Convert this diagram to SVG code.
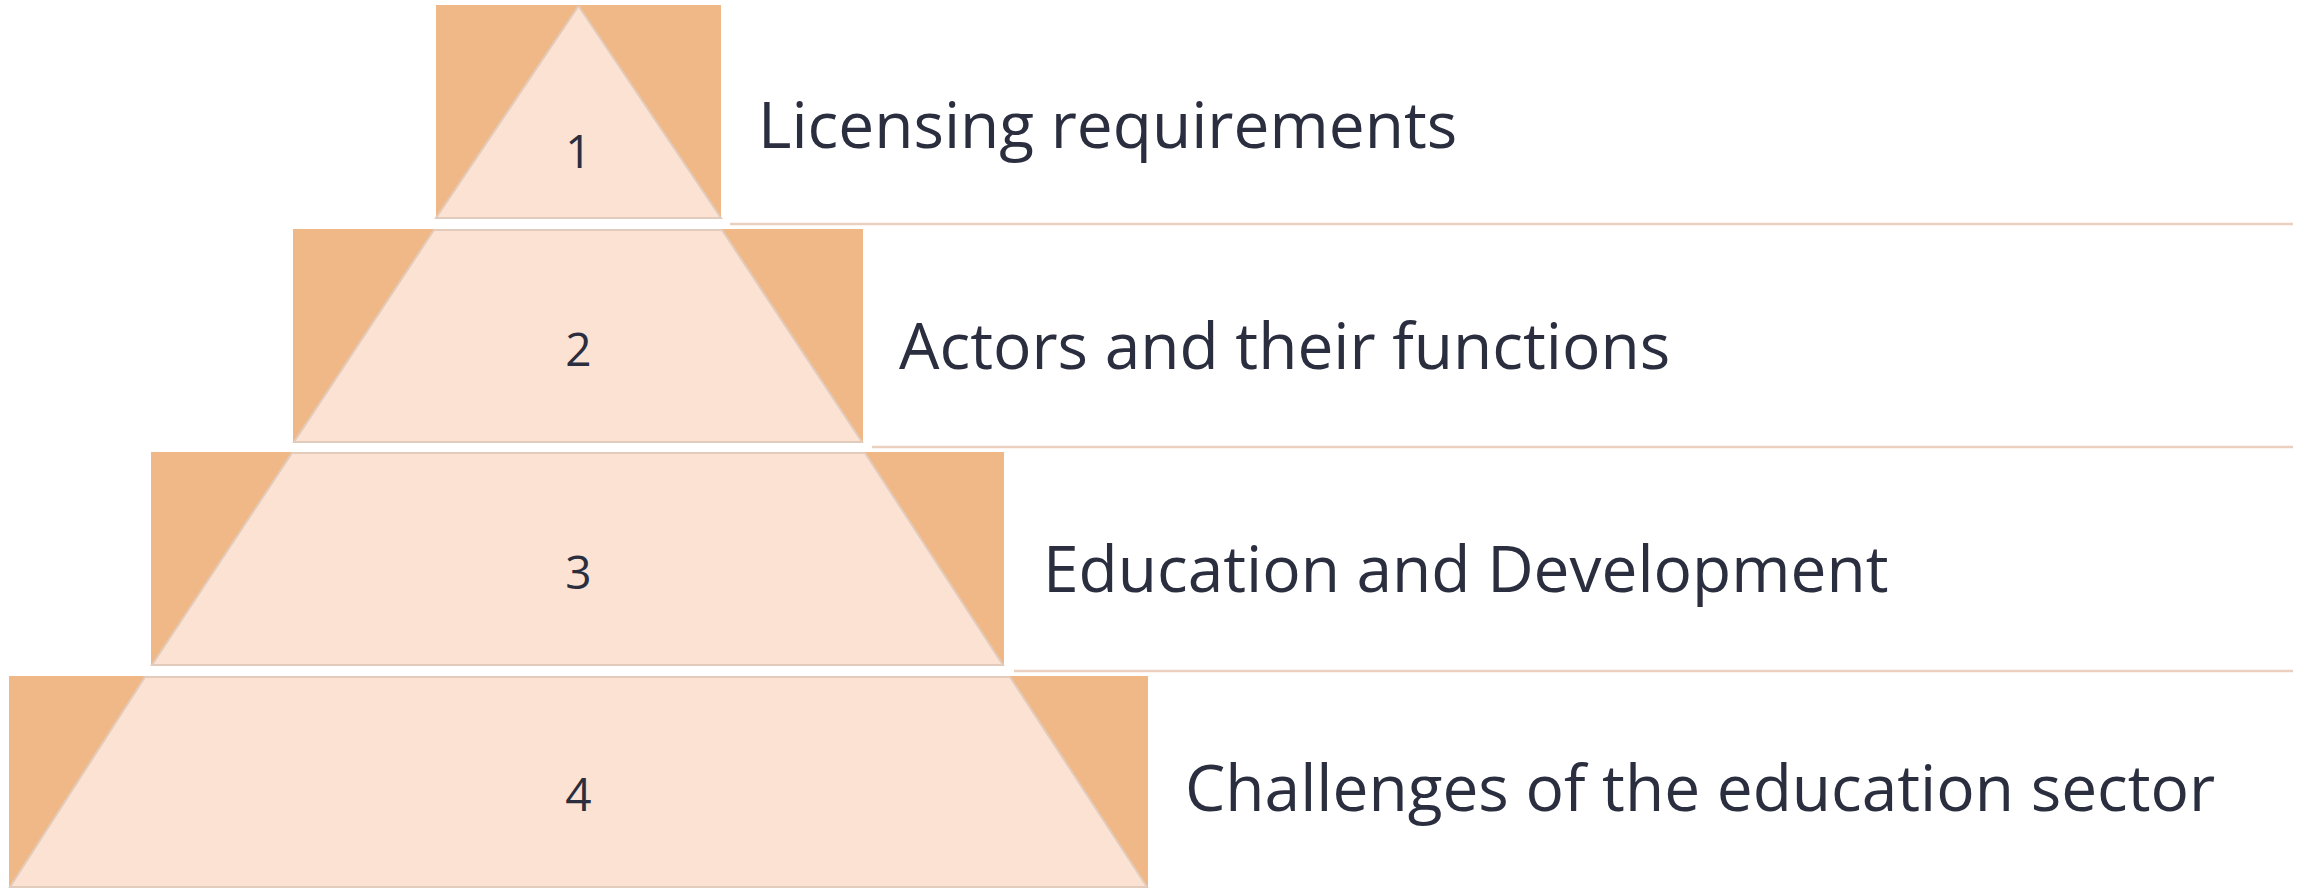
<svg xmlns="http://www.w3.org/2000/svg" width="2305" height="888" viewBox="0 0 2305 888">
<style>
.bg{fill:#f0b886}
.tr{fill:#fbe2d2;stroke:#e3cbbb;stroke-width:2}
.num{font-family:"Open Sans","Liberation Sans",sans-serif;font-size:46px;fill:#2a2e3e;text-anchor:middle}
.lbl{font-family:"Open Sans","Liberation Sans",sans-serif;font-size:64px;fill:#2a2e3e}
.ln{stroke:#ecd0bf;stroke-width:2.5;fill:none}
</style>
<rect width="2305" height="888" fill="#ffffff"/>
<g id="connectors">
<line class="ln" x1="730" y1="224" x2="2293" y2="224"/>
<line class="ln" x1="872" y1="447" x2="2293" y2="447"/>
<line class="ln" x1="1014" y1="671" x2="2293" y2="671"/>
</g>
<g id="tier1">
<rect class="bg" x="436" y="5" width="285" height="214"/>
<polygon class="tr" points="578.5,6 721,218 436,218"/>
<text class="num" x="578.5" y="168">1</text>
<text class="lbl" x="758" y="148">Licensing requirements</text>
</g>
<g id="tier2">
<rect class="bg" x="293" y="229" width="570" height="214"/>
<polygon class="tr" points="434,230 722,230 862,442 294,442"/>
<text class="num" x="578.5" y="366">2</text>
<text class="lbl" x="899" y="369">Actors and their functions</text>
</g>
<g id="tier3">
<rect class="bg" x="151" y="452" width="853" height="214"/>
<polygon class="tr" points="292,453 865,453 1003,665 152,665"/>
<text class="num" x="578.5" y="589">3</text>
<text class="lbl" x="1043" y="592">Education and Development</text>
</g>
<g id="tier4">
<rect class="bg" x="9" y="676" width="1139" height="212"/>
<polygon class="tr" points="145,677 1010,677 1147,887 10,887"/>
<text class="num" x="578.5" y="811">4</text>
<text class="lbl" x="1185" y="811">Challenges of the education sector</text>
</g>
</svg>
